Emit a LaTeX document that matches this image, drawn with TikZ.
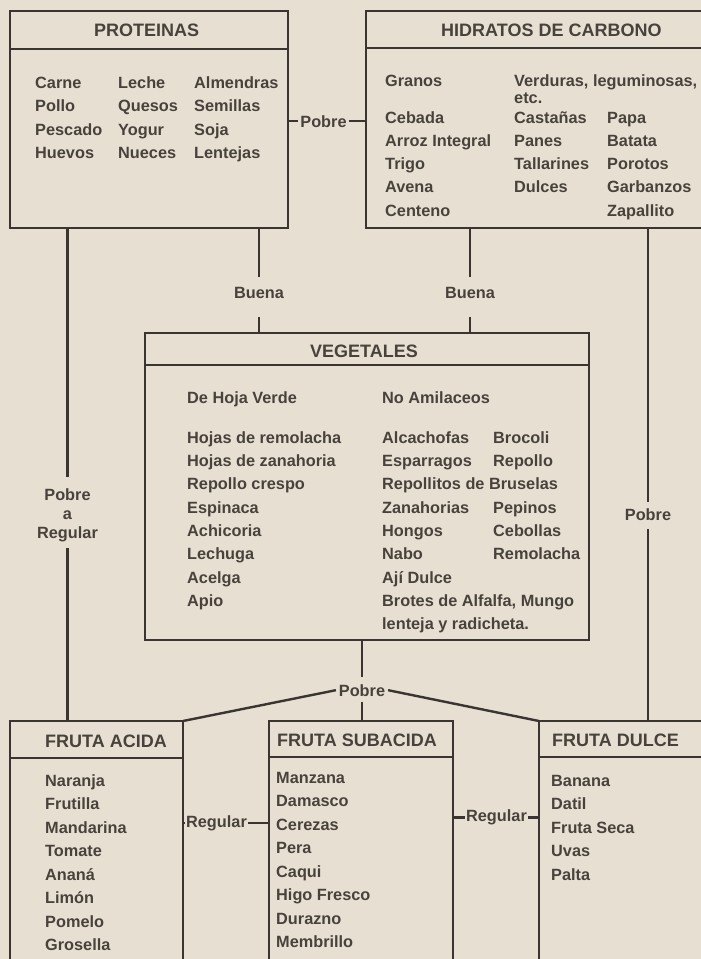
\documentclass[tikz,border=0pt]{standalone}
\usepackage{fontspec}
\setmainfont{Liberation Sans}
\definecolor{paper}{RGB}{231,224,210}
\definecolor{ink}{RGB}{58,53,48}
\definecolor{txt}{RGB}{72,66,60}
\begin{document}
\begin{tikzpicture}[x=1pt,y=-1pt,
  box/.style={draw=ink, line width=2.6pt, rectangle, inner sep=0pt, outer sep=0pt, anchor=north west},
  divider/.style={draw=ink, line width=2.6pt},
  ttl/.style={anchor=base west, inner sep=0pt, text=txt, font=\fontsize{18}{20}\selectfont\bfseries},
  itm/.style={anchor=base west, inner sep=0pt, text=txt, font=\fontsize{16.3}{19}\selectfont\bfseries},
  lbl/.style={inner xsep=2pt, inner ysep=0pt, outer sep=0pt, text=txt, font=\fontsize{16.3}{19}\selectfont\bfseries},
  con/.style={draw=ink, line width=2.4pt}]
\useasboundingbox (0,0) rectangle (701,959);
\fill[paper] (0,0) rectangle (701,959);

% ---------- boxes ----------
\node[box, minimum width=278pt, minimum height=217pt] (prot) at (10,11) {};
\node[box, minimum width=352pt, minimum height=217pt] (hid) at (366,11) {};
\node[box, minimum width=444pt, minimum height=307pt] (veg) at (145,333) {};
\node[box, minimum width=173pt, minimum height=262pt] (acid) at (10,721) {};
\node[box, minimum width=184pt, minimum height=262pt] (sub) at (269,721) {};
\node[box, minimum width=182pt, minimum height=262pt] (dul) at (539,721) {};

\draw[divider] ([yshift=-38pt]prot.north west) -- ([yshift=-38pt]prot.north east);
\draw[divider] ([yshift=-37pt]hid.north west) -- ([yshift=-37pt]hid.north east);
\draw[divider] ([yshift=-32pt]veg.north west) -- ([yshift=-32pt]veg.north east);
\draw[divider] ([yshift=-37pt]acid.north west) -- ([yshift=-37pt]acid.north east);
\draw[divider] ([yshift=-36pt]sub.north west) -- ([yshift=-36pt]sub.north east);
\draw[divider] ([yshift=-36pt]dul.north west) -- ([yshift=-36pt]dul.north east);

% ---------- titles ----------
\node[ttl] (tprot) at (94,36) {PROTEINAS};
\node[ttl] (thid) at (441,36.5) {HIDRATOS DE CARBONO};
\node[ttl] (tveg) at (310,357) {VEGETALES};
\node[ttl] (tacid) at (45,747) {FRUTA ACIDA};
\node[ttl] (tsub) at (277,746) {FRUTA SUBACIDA};
\node[ttl] (tdul) at (552,746) {FRUTA DULCE};

% ---------- PROTEINAS ----------
\node[itm] (p11) at (35,88) {Carne};
\node[itm] (p12) at (35,111.5) {Pollo};
\node[itm] (p13) at (35,135) {Pescado};
\node[itm] (p14) at (35,158.5) {Huevos};
\node[itm] (p21) at (118,88) {Leche};
\node[itm] (p22) at (118,111.5) {Quesos};
\node[itm] (p23) at (118,135) {Yogur};
\node[itm] (p24) at (118,158.5) {Nueces};
\node[itm] (p31) at (194,88) {Almendras};
\node[itm] (p32) at (194,111.5) {Semillas};
\node[itm] (p33) at (194,135) {Soja};
\node[itm] (p34) at (194,158.5) {Lentejas};

% ---------- HIDRATOS ----------
\node[itm] (hg) at (385,86) {Granos};
\node[itm] (hv) at (514,86) {Verduras, leguminosas,};
\node[itm] (hv2) at (514,103) {etc.};
\node[itm] (h11) at (385,123) {Cebada};
\node[itm] (h12) at (385,146.3) {Arroz Integral};
\node[itm] (h13) at (385,169.6) {Trigo};
\node[itm] (h14) at (385,192.9) {Avena};
\node[itm] (h15) at (385,216.2) {Centeno};
\node[itm] (h21) at (514,123) {Castañas};
\node[itm] (h22) at (514,146.3) {Panes};
\node[itm] (h23) at (514,169.6) {Tallarines};
\node[itm] (h24) at (514,192.9) {Dulces};
\node[itm] (h31) at (607,123) {Papa};
\node[itm] (h32) at (607,146.3) {Batata};
\node[itm] (h33) at (607,169.6) {Porotos};
\node[itm] (h34) at (607,192.9) {Garbanzos};
\node[itm] (h35) at (607,216.2) {Zapallito};

% ---------- VEGETALES ----------
\node[itm] (vh1) at (187,403.3) {De Hoja Verde};
\node[itm] (vh2) at (382,403.3) {No Amilaceos};
\node[itm] (v11) at (187,443.3) {Hojas de remolacha};
\node[itm] (v12) at (187,466.6) {Hojas de zanahoria};
\node[itm] (v13) at (187,489.9) {Repollo crespo};
\node[itm] (v14) at (187,513.2) {Espinaca};
\node[itm] (v15) at (187,536.5) {Achicoria};
\node[itm] (v16) at (187,559.8) {Lechuga};
\node[itm] (v17) at (187,583.1) {Acelga};
\node[itm] (v18) at (187,606.4) {Apio};
\node[itm] (v21) at (382,443.3) {Alcachofas};
\node[itm] (v22) at (382,466.6) {Esparragos};
\node[itm] (v23) at (382,489.9) {Repollitos de Bruselas};
\node[itm] (v24) at (382,513.2) {Zanahorias};
\node[itm] (v25) at (382,536.5) {Hongos};
\node[itm] (v26) at (382,559.8) {Nabo};
\node[itm] (v27) at (382,583.1) {Ají Dulce};
\node[itm] (v28) at (382,606.4) {Brotes de Alfalfa, Mungo};
\node[itm] (v29) at (382,629.7) {lenteja y radicheta.};
\node[itm] (v31) at (493,443.3) {Brocoli};
\node[itm] (v32) at (493,466.6) {Repollo};
\node[itm] (v34) at (493,513.2) {Pepinos};
\node[itm] (v35) at (493,536.5) {Cebollas};
\node[itm] (v36) at (493,559.8) {Remolacha};

% ---------- FRUTA ACIDA ----------
\node[itm] (a1) at (45,786) {Naranja};
\node[itm] (a2) at (45,809.5) {Frutilla};
\node[itm] (a3) at (45,833) {Mandarina};
\node[itm] (a4) at (45,856.5) {Tomate};
\node[itm] (a5) at (45,880) {Ananá};
\node[itm] (a6) at (45,903.5) {Limón};
\node[itm] (a7) at (45,927) {Pomelo};
\node[itm] (a8) at (45,950.5) {Grosella};

% ---------- FRUTA SUBACIDA ----------
\node[itm] (s1) at (276,783) {Manzana};
\node[itm] (s2) at (276,806.5) {Damasco};
\node[itm] (s3) at (276,830) {Cerezas};
\node[itm] (s4) at (276,853.5) {Pera};
\node[itm] (s5) at (276,877) {Caqui};
\node[itm] (s6) at (276,900.5) {Higo Fresco};
\node[itm] (s7) at (276,924) {Durazno};
\node[itm] (s8) at (276,947.5) {Membrillo};

% ---------- FRUTA DULCE ----------
\node[itm] (d1) at (551,786) {Banana};
\node[itm] (d2) at (551,809.5) {Datil};
\node[itm] (d3) at (551,833) {Fruta Seca};
\node[itm] (d4) at (551,856.5) {Uvas};
\node[itm] (d5) at (551,880) {Palta};

% ---------- connector labels ----------
\node[lbl, anchor=base] (pT) at (323.5,127) {Pobre};
\node[lbl, anchor=base] (bL) at (259,298) {Buena};
\node[lbl, anchor=base] (bR) at (470,298) {Buena};
\node[lbl, anchor=base] (pR) at (648,520) {Pobre};
\node[lbl, anchor=north, align=center, inner xsep=0pt] (pL) at (67.5,489) {Pobre\\a\\Regular};
\node[lbl, inner xsep=1.5pt] (rL) at (216.5,823) {Regular};
\node[lbl, inner xsep=1.5pt] (rR) at (496.5,817.5) {Regular};
\node[lbl, anchor=base, inner xsep=3pt] (bP) at (362,696) {Pobre};

% ---------- connectors ----------
\draw[con] (prot.east |- pT) -- (pT);
\draw[con] (pT) -- (hid.west |- pT);

\draw[con] (bL |- prot.south) -- ([yshift=10pt]bL.north);
\draw[con] ([yshift=-19pt]bL.south) -- (bL |- veg.north);
\draw[con] (bR |- hid.south) -- ([yshift=10pt]bR.north);
\draw[con] ([yshift=-19pt]bR.south) -- (bR |- veg.north);

\draw[con] (pR |- hid.south) -- ([yshift=6pt]pR.north);
\draw[con] ([yshift=-9pt]pR.south) -- (pR |- dul.north);

\draw[con] (pL |- prot.south) -- ([yshift=12pt]pL.north);
\draw[con] ([yshift=-5.5pt]pL.south) -- (pL |- acid.north);

\draw[con] (bP |- veg.south) -- ([yshift=7pt]bP.north);
\draw[con] ([yshift=-6pt]bP.south) -- (bP |- sub.north);
\draw[con] (bP.west) -- (acid.north east);
\draw[con] (bP.east) -- (dul.north west);

\draw[con] (acid.east |- rL) -- (rL);
\draw[con] (rL) -- (sub.west |- rL);
\draw[con] (sub.east |- rR) -- (rR);
\draw[con] (rR) -- (dul.west |- rR);
\end{tikzpicture}
\end{document}
